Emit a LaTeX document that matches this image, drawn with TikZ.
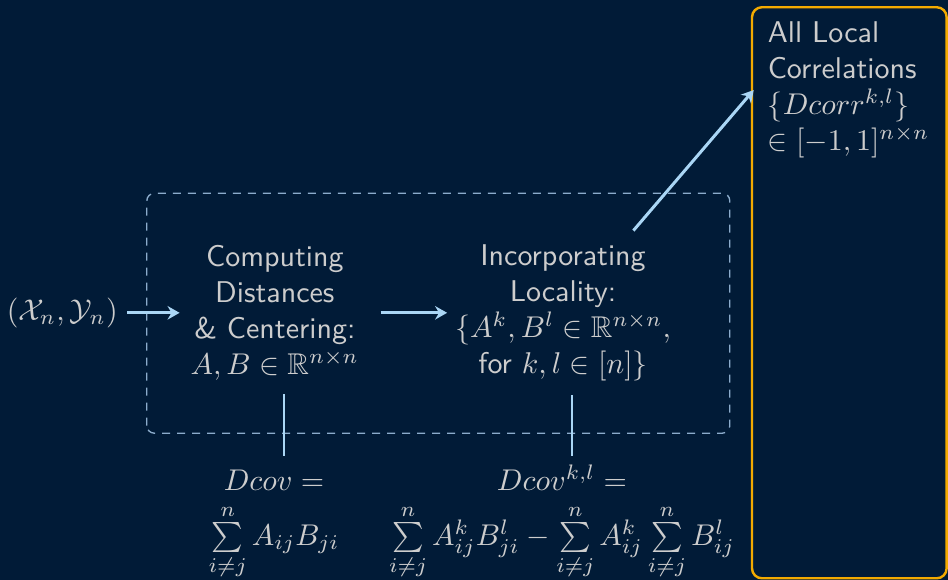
\documentclass[tikz,border=0pt]{standalone}
\usepackage{amsmath,amssymb}
\usetikzlibrary{arrows.meta,calc}
\definecolor{navy}{RGB}{1,27,55}
\definecolor{txt}{RGB}{205,205,205}
\definecolor{skyline}{RGB}{170,214,245}
\definecolor{dashc}{RGB}{140,172,204}
\definecolor{gold}{RGB}{243,170,0}
\tikzset{
  stage/.style={text=txt,align=center,font=\sffamily,inner sep=4.5pt},
  flow/.style={skyline,line width=1pt,-{Stealth[length=4pt,width=4.5pt]}},
  link/.style={skyline,line width=0.7pt},
}

\begin{document}
\begin{tikzpicture}
	\useasboundingbox (0,0) rectangle (11.106,6.795);
	\fill[navy] (0,0) rectangle (11.106,6.795);
	\draw[gold,line width=0.8pt,rounded corners=3.3pt] (8.81,0.02) rectangle (11.09,6.71);
	\draw[dashc,line width=0.45pt,dash pattern=on 2.7pt off 2.3pt,rounded corners=2.5pt] (1.72,1.72) rectangle (8.55,4.53);

	\node[stage,inner sep=3pt] (in) at (0.73,3.13) {$(\mathcal{X}_n,\mathcal{Y}_n)$};
	\node[stage] (comp) at (3.22,3.13) {Computing\\Distances\\\& Centering:\\$A,B\in\mathbb{R}^{n\times n}$};
	\node[stage] (loc) at (6.596,3.13) {Incorporating\\Locality:\\$\{A^k,B^l\in\mathbb{R}^{n\times n},$\\for $k,l\in[n]\}$};
	\node[stage,align=left,anchor=west] (corr) at (8.83,5.74) {All Local\\Correlations\\$\{Dcorr^{k,l}\}$\\$\in[-1,1]^{n\times n}$};
	\node[stage,anchor=north] (dcov) at (3.21,1.45) {$Dcov =$\\[3.7pt]$\sum\limits_{i\neq j}^{n}A_{ij}B_{ji}$};
	\node[stage,anchor=north] (dcovkl) at (6.584,1.51) {$Dcov^{k,l} =$\\[3.7pt]$\sum\limits_{i\neq j}^{n}A^k_{ij}B^l_{ji}-\sum\limits_{i\neq j}^{n}A^k_{ij}\sum\limits_{i\neq j}^{n}B^l_{ij}$};

	\draw[flow,shorten >=-1pt] (in) -- (comp);
	\draw[flow,shorten <=2.5pt,shorten >=-2pt] (comp) -- (loc);
	\draw[flow] (loc) -- (corr.west);
	% links down to the covariance formulas
	\draw[link] ([xshift=3pt]comp.south) -- ([xshift=3pt]comp.south |- dcov.north);
	\draw[link] ([xshift=3pt]loc.south) -- ([xshift=3pt]loc.south |- dcov.north);
\end{tikzpicture}
\end{document}
